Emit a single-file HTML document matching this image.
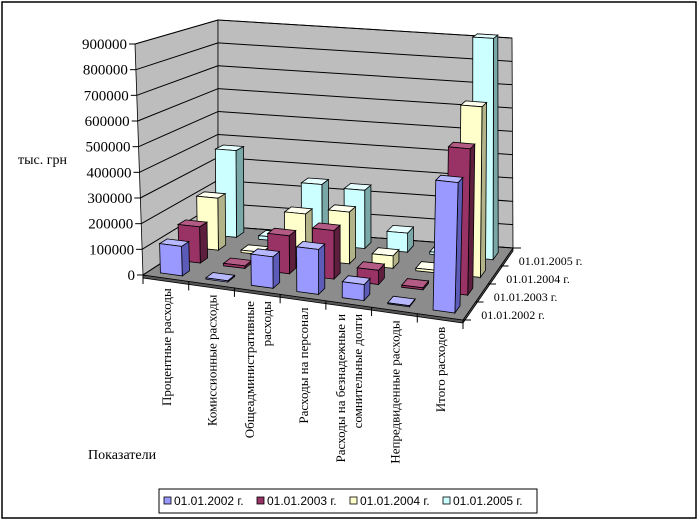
<!DOCTYPE html>
<html><head><meta charset="utf-8"><style>
html,body{margin:0;padding:0;background:#fff;}
svg{display:block;}
text{font-family:"Liberation Serif",serif;fill:#000;}
</style></head><body>
<svg id="chart" width="700" height="523" viewBox="0 0 700 523" xmlns="http://www.w3.org/2000/svg">
<rect x="2" y="2" width="694" height="516" fill="#fff" stroke="#000" stroke-width="1.5"/>
<g id="walls"></g><g id="grid"></g><g id="bars"></g><g id="axes"></g>
<text x="18" y="164" font-size="14">тыс. грн</text>
<text x="88" y="459" font-size="14">Показатели</text>
<g>
<rect x="159" y="489" width="378" height="24" fill="#fff" stroke="#000" stroke-width="1"/>
<g id="legend"></g>
</g>
</svg>
<script>
const categories = ["Процентные расходы","Комиссионные расходы","Общеадминистративные|расходы","Расходы на персонал","Расходы на безнадежные и|сомнительные долги","Непредвиденные расходы","Итого расходов"];
const seriesNames = ["01.01.2002 г.","01.01.2003 г.","01.01.2004 г.","01.01.2005 г."];
const s2002 = [115000, 5000, 120000, 170000, 60000, 4000, 480000];
const s2003 = [145000, 10000, 150000, 190000, 55000, 8000, 560000];
const s2004 = [215000, 10000, 185000, 210000, 50000, 10000, 680000];
const s2005 = [370000, 15000, 255000, 245000, 80000, 10000, 920000];
const yTicks = [0,100000,200000,300000,400000,500000,600000,700000,800000,900000];
const yMax = 900000;

const series=[s2002,s2003,s2004,s2005];
const colors=[["#9999ff","#b8b8ff","#5c5cb8"],["#993366","#b35a85","#5e1f3f"],["#ffffcc","#fffff0","#b3b38a"],["#ccffff","#e6ffff","#7aa8a8"]];
const NS="http://www.w3.org/2000/svg";
const C={f:{FL:[143,275],FR:[463,320],BL:[218,226],BR:[513,248]},t:{FL:[135,44],FR:[470,72],BL:[218,20],BR:[512,38]}};
function bil(q,u,w){const a=q.FL,b=q.FR,c=q.BL,d=q.BR;
 return [ (a[0]*(1-u)+b[0]*u)*(1-w)+(c[0]*(1-u)+d[0]*u)*w, (a[1]*(1-u)+b[1]*u)*(1-w)+(c[1]*(1-u)+d[1]*u)*w ];}
function P(u,w,v){const f=bil(C.f,u,w),t=bil(C.t,u,w),k=v/yMax;return [f[0]+(t[0]-f[0])*k,f[1]+(t[1]-f[1])*k];}
function poly(g,pts,fill,name){const p=document.createElementNS(NS,'polygon');
 p.setAttribute('points',pts.map(q=>q[0].toFixed(1)+','+q[1].toFixed(1)).join(' '));
 p.setAttribute('fill',fill);p.setAttribute('stroke','#000');p.setAttribute('stroke-width','0.8');
 
 
 g.appendChild(p);return p;}
function line(g,a,b,name,w){const l=document.createElementNS(NS,'line');
 l.setAttribute('x1',a[0]);l.setAttribute('y1',a[1]);l.setAttribute('x2',b[0]);l.setAttribute('y2',b[1]);
 l.setAttribute('stroke','#000');l.setAttribute('stroke-width',w||1);
 
 
 g.appendChild(l);}
function txt(g,x,y,s,size,name,anchor,rot){const t=document.createElementNS(NS,'text');
 t.setAttribute('x',x);t.setAttribute('y',y);t.setAttribute('font-size',size);
 if(anchor)t.setAttribute('text-anchor',anchor);
 if(rot)t.setAttribute('transform','rotate('+rot+' '+x+' '+y+')');
 t.textContent=s;
 
 
 g.appendChild(t);return t;}
const walls=document.getElementById('walls'),grid=document.getElementById('grid'),bars=document.getElementById('bars'),axes=document.getElementById('axes'),legend=document.getElementById('legend');
poly(walls,[P(0,0,0),P(0,1,0),P(0,1,yMax),P(0,0,yMax)],'#bdbdbd','left-wall');
poly(walls,[P(0,1,0),P(1,1,0),P(1,1,yMax),P(0,1,yMax)],'#bdbdbd','back-wall');
poly(walls,[P(0,0,0),P(1,0,0),[P(1,0,0)[0],P(1,0,0)[1]+3],[P(0,0,0)[0],P(0,0,0)[1]+3]],'#555','floor-front-edge');
poly(walls,[P(1,0,0),P(1,1,0),[P(1,1,0)[0],P(1,1,0)[1]+3],[P(1,0,0)[0],P(1,0,0)[1]+3]],'#555','floor-right-edge');
poly(walls,[P(0,0,0),P(1,0,0),P(1,1,0),P(0,1,0)],'#8c8c8c','floor');
yTicks.forEach(v=>{
 line(grid,P(0,0,v),P(0,1,v),'gridline-left');
 line(grid,P(0,1,v),P(1,1,v),'gridline-back');
 const a=P(0,0,v);
 line(axes,[a[0]-6,a[1]],a,'y-tick');
 txt(axes,a[0]-8,a[1]+5,String(v),15,'y-tick-label','end');
});
for(let s=3;s>=0;s--){
 for(let c=0;c<categories.length;c++){
  const v=series[s][c];
  const u0=(c+0.5-0.24)/7,u1=(c+0.5+0.24)/7,w0=(s+0.3)/4,w1=(s+0.7)/4;
  const g=document.createElementNS(NS,'g');
  
  
  bars.appendChild(g);
  poly(g,[P(u1,w0,0),P(u1,w1,0),P(u1,w1,v),P(u1,w0,v)],colors[s][2],'bar-side');
  poly(g,[P(u0,w0,v),P(u1,w0,v),P(u1,w1,v),P(u0,w1,v)],colors[s][1],'bar-top');
  poly(g,[P(u0,w0,0),P(u1,w0,0),P(u1,w0,v),P(u0,w0,v)],colors[s][0],'bar-front');
 }
}
for(let k=0;k<=7;k++){const a=P(k/7,0,0);line(axes,a,[a[0],a[1]+9],'x-tick');}
categories.forEach((name,c)=>{
 const a=P((c+0.5)/7,0,0);const lines=name.split('|');
 lines.forEach((ln,i)=>{
  const x=a[0]+1+(i-(lines.length-1)/2)*17;
  txt(axes,x+4,a[1]+10,ln,13,'category-label','end',-90);
 });
});
for(let k=0;k<=4;k++){const a=P(1,k/4,0);line(axes,a,[a[0]+8,a[1]],'z-tick');}
seriesNames.forEach((n,s)=>{const a=P(1,(s+0.5)/4,0);txt(axes,a[0]+12,a[1]+8,n,12,'series-axis-label');});
let lx=164;
seriesNames.forEach((n,s)=>{
 const r=document.createElementNS(NS,'rect');
 r.setAttribute('x',lx);r.setAttribute('y',497);r.setAttribute('width',7);r.setAttribute('height',7);
 r.setAttribute('fill',colors[s][0]);r.setAttribute('stroke','#000');r.setAttribute('stroke-width','0.8');
 
 
 legend.appendChild(r);
 const t=txt(legend,lx+10,505,n,12,'legend-entry');
 t.setAttribute('style','font-family:"Liberation Sans",sans-serif');
 lx+=93;
});
</script>
</body></html>
